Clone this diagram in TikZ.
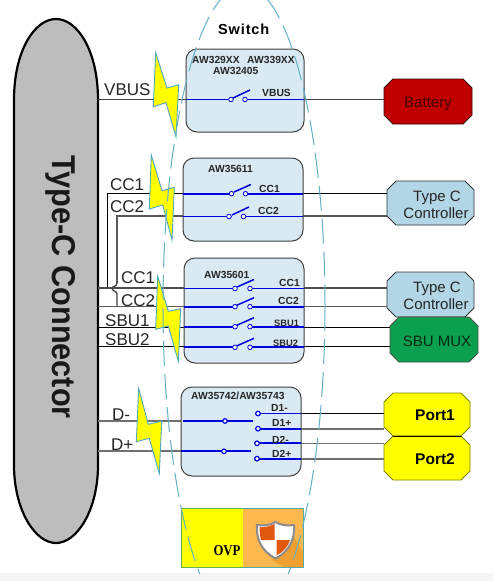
\documentclass[tikz,border=0pt]{standalone}
\usepackage{fontspec}
\setmainfont{Liberation Sans}
\definecolor{zapy}{HTML}{FFFF00}
\definecolor{boxfill}{HTML}{D9EAF4}
\definecolor{boxline}{HTML}{404040}
\definecolor{boltedge}{HTML}{4FA8BC}
\definecolor{ell}{HTML}{62AFC6}
\definecolor{ctrl}{HTML}{B3D6E6}
\definecolor{sbu}{HTML}{0AA04F}
\definecolor{batt}{HTML}{C00000}
\definecolor{swblue}{HTML}{0000E0}
\definecolor{greyline}{HTML}{707070}
\definecolor{ovporange}{HTML}{FBB84F}
\definecolor{ovpshadow}{HTML}{F0A030}
\definecolor{shieldq}{HTML}{E0590F}
\definecolor{ovpedge}{HTML}{6CB04C}
\tikzset{
  chip/.style={draw=boxline,line width=1pt,fill=boxfill,rounded corners=11pt},
  zap/.style={draw=boltedge,line width=.9pt,fill=zapy,line join=miter},
  swline/.style={draw=swblue,line width=1.8pt},
  wire/.style={draw=black,line width=.9pt},
  gwire/.style={draw=greyline,line width=1.6pt},
  contact/.style={circle,draw=swblue,fill=white,line width=.8pt,inner sep=0pt,minimum size=4.6pt},
  dcontact/.style={contact,line width=1.2pt,minimum size=4.6pt},
  lab/.style={anchor=base west,inner sep=0pt,font=\fontsize{17}{17}\selectfont,text=black!85},
  chiplab/.style={anchor=base west,inner sep=0pt,font=\fontsize{10.3}{10}\selectfont\bfseries,text=black!85},
  blockbase/.style={rectangle,inner sep=0pt,outer sep=0pt},
  blocktext/.style={inner sep=0pt,anchor=base,font=\fontsize{15}{15}\selectfont,text=black!85},
  porttext/.style={blocktext,font=\fontsize{15.5}{15}\selectfont\bfseries,text=black},
}
\newcommand{\swarm}[3]{\draw[swline,line width=1.5pt] (#1,#2) -- (#1+17,#3);}
\newcommand{\chamferbox}[2]{\draw[#2,line width=.9pt] ([xshift=9pt]#1.north west) -- ([xshift=-9pt]#1.north east) -- ([yshift=-9pt]#1.north east) -- ([yshift=9pt]#1.south east) -- ([xshift=-9pt]#1.south east) -- ([xshift=9pt]#1.south west) -- ([yshift=9pt]#1.south west) -- ([yshift=-9pt]#1.north west) -- cycle;}
\begin{document}
\begin{tikzpicture}[x=1pt,y=-1pt]
\useasboundingbox (0,0) rectangle (493,581);
\fill[white] (0,0) rectangle (493,581);
\fill[black!4] (0,573) rectangle (493,581);
% connector body
\draw[line width=2.2pt,fill=black!26] (14,100) .. controls (14,50) and (35,19) .. (56,19) .. controls (77,19) and (98,50) .. (98,100) -- (98,465) .. controls (98,510) and (77,543) .. (56,543) .. controls (35,543) and (14,510) .. (14,465) -- cycle;
\node[rotate=-90,xscale=.93,anchor=base west,inner sep=0pt,font=\fontsize{33}{33}\selectfont\bfseries,text=black!90] (typec) at (52.5,155) {Type-C Connector};
% blocks
\node[blockbase,minimum width=88pt,minimum height=45pt] (battery) at (428,101.5) {};
\node[blockbase,minimum width=87pt,minimum height=44pt] (ctrlA) at (430.5,203) {};
\node[blockbase,minimum width=87pt,minimum height=45pt] (ctrlB) at (430.5,294.5) {};
\node[blockbase,minimum width=88pt,minimum height=45pt] (mux) at (434,339.5) {};
\node[blockbase,minimum width=86pt,minimum height=43pt] (portA) at (427,414.5) {};
\node[blockbase,minimum width=86pt,minimum height=44pt] (portB) at (427,458) {};
\chamferbox{ctrlB}{draw=black!80,fill=ctrl}
\chamferbox{mux}{draw=black!70,fill=sbu}
\chamferbox{battery}{draw=black!70!batt,fill=batt}
\chamferbox{ctrlA}{draw=black!80,fill=ctrl}
\chamferbox{portA}{draw=black!50!zapy,fill=zapy}
\chamferbox{portB}{draw=black!50!zapy,fill=zapy}
\draw[black,line width=.9pt] (portA.south west) ++(9,0) -- ++(68,0);
\node[blocktext,text=black!65!batt] (batteryt) at (428,107) {Battery};
\node[blocktext] (ctrlAa) at (437,201) {Type C};
\node[blocktext] (ctrlAb) at (436,218) {Controller};
\node[blocktext] (ctrlBa) at (437,292) {Type C};
\node[blocktext] (ctrlBb) at (436,309) {Controller};
\node[blocktext,text=black!75!sbu] (muxt) at (437,346) {SBU MUX};
\node[porttext] (portAt) at (435,420) {Port1};
\node[porttext] (portBt) at (435,464) {Port2};
% outer wires
\draw[wire,draw=black!75] (98,99.5) -- (battery.west |- 0,99.5);
\draw[wire] (107,288) -- (107,193.7) -- (ctrlA.west |- 0,193.7);
\draw[wire,line width=1.4pt,draw=black!65] (117,283) -- (117,216) -- (ctrlA.west |- 0,216);
\draw[wire,draw=black!75,line width=1.3pt] (117,283) .. controls (117,287) and (112,286) .. (112,288.5) .. controls (112,291) and (117,291) .. (117,294) -- (117,306.5);
\draw[wire,line width=1.2pt,draw=black!70] (98,288) -- (ctrlB.west |- 0,288);
\draw[wire,line width=1.3pt,draw=black!65] (98,306.5) -- (ctrlB.west |- 0,306.5);
\draw[wire] (98,327) -- (mux.west |- 0,327);
\draw[wire] (98,346.7) -- (mux.west |- 0,346.7);
\draw[gwire,line width=2pt] (98,420.7) -- (183,420.7);
\draw[gwire] (98,451) -- (183,451);
\draw[wire] (258,413.5) -- (portA.west |- 0,413.5);
\draw[gwire,line width=1.8pt] (258,428.7) -- (portA.west |- 0,428.7);
\draw[gwire] (257,443.3) -- (portB.west |- 0,443.3);
\draw[gwire,line width=1.8pt] (257,458.7) -- (portB.west |- 0,458.7);
% chips
\path[chip] (186,49) rectangle (304,132);
\path[chip] (183,158) rectangle (303,241);
\path[chip] (184,258) rectangle (304,363);
\path[chip] (181,387) rectangle (301,476);
\node[anchor=base west,inner sep=0pt,font=\fontsize{14.5}{14}\selectfont\bfseries\addfontfeature{LetterSpace=6}] (switch) at (218,34.7) {Switch};
\node[chiplab] (n1) at (192,63) {AW329XX};
\node[chiplab] (n2) at (247,63) {AW339XX};
\node[chiplab] (n3) at (213,74) {AW32405};
\node[chiplab] (n4) at (208,172) {AW35611};
\node[chiplab] (n5) at (204,278) {AW35601};
\node[chiplab] (n6) at (191,399) {AW35742/AW35743};
% VBUS switch
\draw[swline] (186,99.5) -- (304,99.5);
\fill[boxfill] (233,97) rectangle (243,102);
\node[contact] (a1) at (231,99.5) {};
\node[contact] (a2) at (245,99.5) {};
\swarm{233}{98}{90}
\node[chiplab] (v) at (262,96.7) {VBUS};
% CC switches
\draw[swline] (183,193.7) -- (303,193.7);
\fill[boxfill] (233.5,191) rectangle (243,196);
\node[contact] (b1) at (231.5,193.7) {};
\node[contact] (b2) at (245.5,193.7) {};
\swarm{234}{192}{184.5}
\draw[swline] (183,216.5) -- (303,216.5);
\fill[boxfill] (231.5,214) rectangle (241,219);
\node[contact] (b3) at (229,216.5) {};
\node[contact] (b4) at (243.5,216.5) {};
\swarm{232}{215}{207}
\node[chiplab] (c1) at (259,192) {CC1};
\node[chiplab] (c2) at (258,214) {CC2};
% box 3
\foreach \yy/\xa/\nm in {288.5/235/d1,306.7/235/d2,326.7/235/d3,347.3/235/d4}{
  \draw[swline] (184,\yy) -- (304,\yy);
  \fill[boxfill] (\xa+2,\yy-2.6) rectangle (\xa+12.5,\yy+2.6);
  \node[contact] (\nm a) at (\xa,\yy) {};
  \node[contact] (\nm b) at (\xa+15,\yy) {};
  \swarm{\xa+2}{\yy-1.5}{\yy-9}
}
\node[chiplab] (e1) at (279,286) {CC1};
\node[chiplab] (e2) at (278,304) {CC2};
\node[chiplab,font=\fontsize{9.3}{9}\selectfont\bfseries] (e3) at (274,326) {SBU1};
\node[chiplab,font=\fontsize{9.3}{9}\selectfont\bfseries] (e4) at (273,346) {SBU2};
% box 4
\draw[swline] (183,420.7) -- (253,420.7);
\draw[swline] (181,451) -- (251,451);
\node[dcontact] (f1) at (225,421) {};
\node[dcontact] (f2) at (224,451.3) {};
\draw[swline] (258,413.5) -- (301,413.5);
\draw[swline] (258,428.7) -- (301,428.7);
\draw[swline] (257,443.3) -- (301,443.3);
\draw[swline] (257,458.7) -- (301,458.7);
\node[dcontact] (g1) at (258,413.5) {};
\node[dcontact] (g2) at (258,428.7) {};
\node[dcontact] (g3) at (257,443.3) {};
\node[dcontact] (g4) at (257,458.7) {};
\node[chiplab] (h1) at (271,411) {D1-};
\node[chiplab] (h2) at (272,426) {D1+};
\node[chiplab] (h3) at (272,443) {D2-};
\node[chiplab] (h4) at (272,457) {D2+};
% bolts
\path[zap] (155.7,52.7) -- (167,88) -- (178.7,84.7) -- (176,137) -- (166,102.7) -- (153.3,106.7) -- cycle;
\path[zap] (151.3,155) -- (162,190.7) -- (174.3,187.3) -- (172,240) -- (162.7,205) -- (149.3,209) -- cycle;
\path[zap] (157.7,276) -- (168.3,311.3) -- (180.7,308.7) -- (178.3,361.3) -- (168.3,326) -- (155.7,329.3) -- cycle;
\path[zap] (138.7,388.3) -- (148.3,424.3) -- (161.7,421) -- (159.3,473.7) -- (149.3,438.3) -- (136.3,441.7) -- cycle;
% outer labels
\node[lab] (l1) at (104,95) {VBUS};
\node[lab] (l2) at (110,190.5) {CC1};
\node[lab] (l3) at (110,212) {CC2};
\node[lab] (l4) at (121,283) {CC1};
\node[lab] (l5) at (121,306) {CC2};
\node[lab] (l6) at (105,326) {SBU1};
\node[lab] (l7) at (105,345) {SBU2};
\node[lab] (l8) at (112,420) {D-};
\node[lab] (l9) at (111,450) {D+};
% OVP
\fill[zapy] (181,508) rectangle (243,567);
\fill[ovporange] (243,508) rectangle (303,567);
\fill[ovpshadow] (292,534) -- (303,552) -- (303,567) -- (284,567) -- (272,560) -- cycle;
\draw[ovpedge,line width=.9pt] (243,508) -- (181,508) -- (181,567) -- (243,567);
\draw[boltedge!80!ovpedge,line width=.9pt] (243,508) -- (303,508) -- (303,567) -- (243,567);
\node[anchor=base,inner sep=0pt,font={\fontspec{Liberation Serif}\fontsize{15}{15}\selectfont\bfseries},xscale=.85] (ovp) at (227,555) {OVP};
% shield
\draw[fill=white,draw=black!45,line width=2pt,line join=round] (275.5,522) .. controls (281,525.5) and (288,526) .. (294,525) .. controls (295,538) and (290,551) .. (275.5,558.5) .. controls (261,551) and (256,538) .. (257,525) .. controls (263,526) and (270,525.5) .. (275.5,522) -- cycle;
\fill[shieldq] (274.5,524) .. controls (270,526.5) and (264,527.5) .. (259.5,527) .. controls (259.5,531) and (260,536) .. (261,540) -- (274.5,540) -- cycle;
\fill[shieldq] (276.5,540) -- (290,540) .. controls (288,547) and (283,552) .. (276.5,555.5) -- cycle;
% dashed envelope
\begin{scope}
\clip (0,0) rectangle (493,573);
\draw[ell,line width=1pt,dash pattern=on 25pt off 8pt] (244,306) ellipse[x radius=81,y radius=320];
\end{scope}
\end{tikzpicture}
\end{document}
